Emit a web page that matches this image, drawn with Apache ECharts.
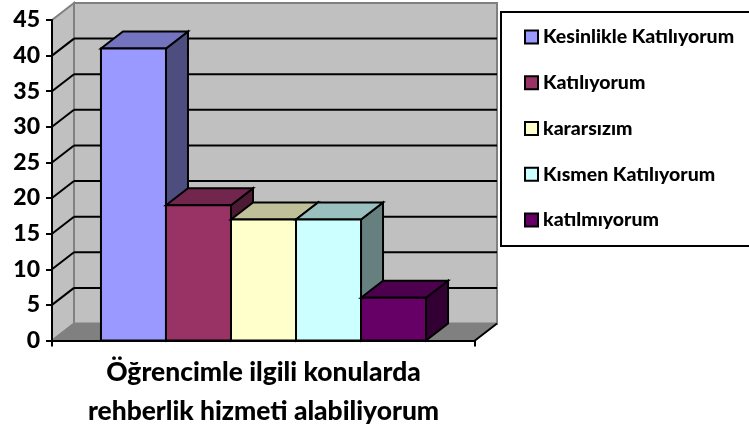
<!DOCTYPE html>
<html>
<head>
<meta charset="utf-8">
<style>
  html, body { margin: 0; padding: 0; background: #fff; }
  #chart { width: 749px; height: 429px; }
</style>
<script src="https://cdn.jsdelivr.net/npm/echarts@6/dist/echarts.min.js"></script>
</head>
<body>
<div id="chart"></div>
<script>
const categories = ['Öğrencimle ilgili konularda\nrehberlik hizmeti alabiliyorum'];
const seriesNames = ['Kesinlikle Katılıyorum', 'Katılıyorum', 'kararsızım', 'Kısmen Katılıyorum', 'katılmıyorum'];
const seriesValues = [41, 19, 17, 17, 6];
const seriesColors = ['#9999FF', '#993366', '#FFFFCC', '#CCFFFF', '#660066'];
const yTicks = [0, 5, 10, 15, 20, 25, 30, 35, 40, 45];

// 3D look: how far the back wall sits from the front plane, in pixels
const DEPTH_X = 22;
const DEPTH_Y = 17;
const BAR_SHARE = 0.1537; // one bar as a share of the category band

function shade(hex, k) {
    const n = parseInt(hex.slice(1), 16);
    const r = Math.round((n >> 16 & 255) * k);
    const g = Math.round((n >> 8 & 255) * k);
    const b = Math.round((n & 255) * k);
    return 'rgb(' + r + ',' + g + ',' + b + ')';
}

function poly(points, fill, stroke, width) {
    return {
        type: 'polygon',
        shape: { points: points },
        style: { fill: fill, stroke: stroke, lineWidth: width, lineJoin: 'miter' }
    };
}

function line(x1, y1, x2, y2, color, width) {
    return {
        type: 'line',
        shape: { x1: x1, y1: y1, x2: x2, y2: y2 },
        style: { stroke: color, lineWidth: width }
    };
}

// back wall, side wall, floor and the grid lines
function renderWalls(params, api) {
    const band = api.size([1, 0])[0];
    const center = api.coord([0, 0])[0];
    const left = center - band / 2;
    const right = center + band / 2;
    const y0 = api.coord([0, 0])[1];
    const yTop = api.coord([0, yTicks[yTicks.length - 1]])[1];
    const children = [
        poly([[left + DEPTH_X, yTop - DEPTH_Y], [right + DEPTH_X, yTop - DEPTH_Y], [right + DEPTH_X, y0 - DEPTH_Y], [left + DEPTH_X, y0 - DEPTH_Y]], '#C0C0C0', '#808080', 2),
        poly([[left, yTop], [left + DEPTH_X, yTop - DEPTH_Y], [left + DEPTH_X, y0 - DEPTH_Y], [left, y0]], '#C0C0C0', '#808080', 2),
        poly([[left, y0], [left + DEPTH_X, y0 - DEPTH_Y], [right + DEPTH_X, y0 - DEPTH_Y], [right, y0]], '#808080', '#808080', 1),
        line(right, y0, right + DEPTH_X, y0 - DEPTH_Y, '#000', 2)
    ];
    yTicks.forEach(function (t) {
        if (t === 0 || t === yTicks[yTicks.length - 1]) return;
        const y = api.coord([0, t])[1];
        children.push(line(left, y, left + DEPTH_X, y - DEPTH_Y, '#000', 2));
        children.push(line(left + DEPTH_X, y - DEPTH_Y, right + DEPTH_X, y - DEPTH_Y, '#000', 2));
    });
    return { type: 'group', children: children };
}

function makeBarRender(index) {
    return function (params, api) {
        const base = api.coord([api.value(0), 0]);
        const top = api.coord([api.value(0), api.value(1)]);
        const w = api.size([1, 0])[0] * BAR_SHARE;
        const x0 = base[0] + (index - (seriesValues.length - 1) / 2 - 0.5) * w;
        const x1 = x0 + w;
        const color = seriesColors[index];
        return {
            type: 'group',
            children: [
                poly([[x1, top[1]], [x1 + DEPTH_X, top[1] - DEPTH_Y], [x1 + DEPTH_X, base[1] - DEPTH_Y], [x1, base[1]]], shade(color, 0.5), '#000', 2),
                poly([[x0, top[1]], [x0 + DEPTH_X, top[1] - DEPTH_Y], [x1 + DEPTH_X, top[1] - DEPTH_Y], [x1, top[1]]], shade(color, 0.75), '#000', 2),
                poly([[x0, top[1]], [x1, top[1]], [x1, base[1]], [x0, base[1]]], color, '#000', 2)
            ]
        };
    };
}

const chart = echarts.init(document.getElementById('chart'));

const series = [{
    type: 'custom',
    name: 'walls',
    z: 1,
    silent: true,
    renderItem: renderWalls,
    encode: { x: 0, y: 1 },
    data: [[0, 0]]
}];
seriesNames.forEach(function (name, i) {
    series.push({
        type: 'custom',
        name: name,
        z: 2,
        renderItem: makeBarRender(i),
        encode: { x: 0, y: 1 },
        itemStyle: { color: seriesColors[i] },
        data: [[0, seriesValues[i]]]
    });
});

chart.setOption({
    animation: false,
    backgroundColor: '#fff',
    grid: { left: 52, right: 274, top: 20, bottom: 88.5, outerBoundsMode: 'none' },
    xAxis: {
        type: 'category',
        data: categories,
        z: 10,
        axisLine: { lineStyle: { color: '#000', width: 2 } },
        axisTick: { show: true, length: 6, alignWithLabel: false, lineStyle: { color: '#000', width: 2 } },
        axisLabel: {
            color: '#000',
            fontFamily: 'Lato',
            fontWeight: 900,
            fontSize: 26.4,
            lineHeight: 39,
            margin: 12.5
        }
    },
    yAxis: {
        type: 'value',
        min: 0,
        max: 45,
        interval: 5,
        z: 10,
        splitLine: { show: false },
        axisLine: { show: true, lineStyle: { color: '#000', width: 2 } },
        axisTick: { show: true, length: 6, lineStyle: { color: '#000', width: 2 } },
        axisLabel: {
            color: '#000',
            fontFamily: 'Lato',
            fontWeight: 900,
            fontSize: 23,
            margin: 12,
            padding: [3, 0, 0, 0]
        }
    },
    legend: {
        data: seriesNames,
        orient: 'vertical',
        left: 524,
        top: 27,
        padding: 0,
        itemWidth: 13,
        itemHeight: 13,
        itemGap: 25.75,
        icon: 'rect',
        selectedMode: false,
        itemStyle: { borderColor: '#000', borderWidth: 2 },
        textStyle: {
            color: '#000',
            fontFamily: 'Lato',
            fontWeight: 900,
            fontSize: 19.5,
            lineHeight: 19
        }
    },
    graphic: [{
        type: 'rect',
        z: -1,
        shape: { x: 501, y: 12, width: 270, height: 234 },
        style: { fill: '#fff', stroke: '#000', lineWidth: 2 }
    }],
    series: series
});

window.addEventListener('resize', function () {
    chart.resize();
});
</script>
</body>
</html>
